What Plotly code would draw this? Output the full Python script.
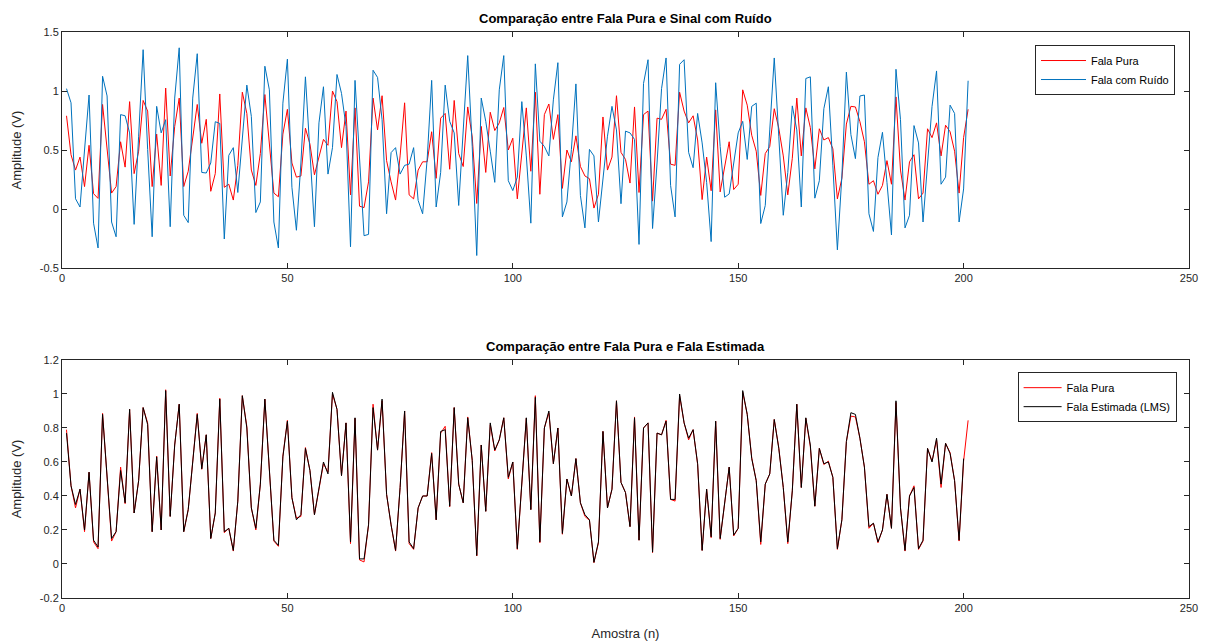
import plotly.graph_objects as go

fala_pura = [
    0.79, 0.46, 0.33, 0.44, 0.19, 0.54, 0.13, 0.09, 0.886, 0.51,
    0.135, 0.19, 0.57, 0.355, 0.91, 0.30, 0.49, 0.92, 0.83, 0.19,
    0.635, 0.20, 1.025, 0.28, 0.70, 0.94, 0.19, 0.32, 0.61, 0.886,
    0.557, 0.76, 0.15, 0.30, 0.975, 0.184, 0.21, 0.076, 0.37, 0.99,
    0.81, 0.33, 0.20, 0.47, 0.97, 0.55, 0.135, 0.104, 0.635, 0.845,
    0.39, 0.27, 0.28, 0.685, 0.55, 0.29, 0.44, 0.59, 0.54, 1.00,
    0.91, 0.52, 0.83, 0.12, 0.857, 0.024, 0.012, 0.23, 0.94, 0.67,
    0.96, 0.41, 0.23, 0.076, 0.45, 0.90, 0.12, 0.086, 0.33, 0.40,
    0.40, 0.655, 0.26, 0.77, 0.81, 0.337, 0.92, 0.47, 0.36, 0.865,
    0.61, 0.047, 0.70, 0.31, 0.82, 0.665, 0.73, 0.86, 0.50, 0.60,
    0.086, 0.45, 0.857, 0.32, 0.99, 0.125, 0.80, 0.89, 0.59, 0.80,
    0.175, 0.50, 0.40, 0.62, 0.36, 0.28, 0.257, 0.008, 0.125, 0.78,
    0.33, 0.44, 0.96, 0.48, 0.42, 0.22, 0.865, 0.14, 0.80, 0.83,
    0.067, 0.77, 0.76, 0.845, 0.38, 0.37, 0.99, 0.83, 0.73, 0.79,
    0.585, 0.08, 0.44, 0.155, 0.84, 0.145, 0.37, 0.57, 0.165, 0.21,
    1.01, 0.88, 0.625, 0.49, 0.115, 0.47, 0.53, 0.85, 0.685, 0.45,
    0.12, 0.43, 0.94, 0.45, 0.857, 0.69, 0.34, 0.68, 0.585, 0.605,
    0.51, 0.086, 0.26, 0.72, 0.87, 0.865, 0.74, 0.57, 0.21, 0.24,
    0.125, 0.20, 0.41, 0.21, 0.95, 0.33, 0.076, 0.40, 0.46, 0.086,
    0.135, 0.68, 0.605, 0.73, 0.45, 0.71, 0.655, 0.49, 0.135, 0.605,
    0.845,
]

fala_ruido = [
    1.02, 0.90, 0.087, 0.017, 0.50, 0.966, -0.12, -0.33, 1.125, 0.958,
    -0.11, -0.235, 0.80, 0.79, 0.645, -0.13, 0.617, 1.35, 0.505, -0.235,
    0.87, 0.645, 0.757, -0.15, 0.94, 1.366, -0.053, -0.115, 0.94, 1.316,
    0.31, 0.305, 0.39, 0.74, 0.725, -0.254, 0.455, 0.52, 0.14, 0.59,
    1.05, 0.785, -0.03, 0.06, 1.21, 1.01, -0.11, -0.33, 0.897, 1.27,
    0.184, -0.18, 0.39, 1.12, 0.48, -0.15, 0.73, 1.036, 0.296, 0.52,
    1.14, 0.98, 0.70, -0.32, 1.09, 0.45, -0.226, -0.215, 1.176, 1.115,
    0.757, -0.04, 0.478, 0.52, 0.296, 0.37, 0.38, 0.52, 0.073, -0.04,
    0.42, 1.09, 0.017, 0.31, 1.05, 0.743, 0.645, 0.03, 0.617, 1.30,
    0.53, -0.394, 0.94, 0.743, 0.49, 0.226, 1.01, 1.30, 0.24, 0.156,
    0.27, 0.91, 0.45, -0.12, 1.23, 0.575, 0.53, 0.45, 0.925, 1.24,
    -0.067, 0.06, 0.505, 1.06, 0.115, -0.16, 0.505, 0.45, -0.11, 0.28,
    0.617, 0.87, 0.67, 0.045, 0.66, 0.645, 0.59, -0.30, 1.064, 1.265,
    -0.165, 0.39, 1.02, 1.28, 0.20, -0.067, 1.226, 1.265, 0.48, 0.35,
    0.81, 0.56, 0.226, -0.276, 1.07, 0.53, 0.10, 0.128, 0.39, 0.645,
    0.743, 0.42, 0.87, 0.897, -0.123, 0.03, 0.67, 1.28, 0.617, -0.053,
    0.31, 0.874, 0.67, 0.017, 1.106, 1.12, 0.092, 0.24, 0.85, 1.036,
    0.366, -0.346, 0.28, 1.16, 0.63, 0.427, 0.958, 0.966, -0.04, -0.19,
    0.436, 0.65, 0.226, -0.22, 1.184, 0.757, -0.16, -0.053, 0.707, 0.56,
    -0.11, 0.39, 0.87, 1.17, 0.21, 0.27, 0.88, 0.81, -0.11, 0.17,
    1.087,
]

fala_estimada = [
    0.77, 0.46, 0.35, 0.44, 0.20, 0.54, 0.14, 0.10, 0.88, 0.51,
    0.15, 0.19, 0.55, 0.36, 0.91, 0.30, 0.49, 0.92, 0.82, 0.19,
    0.63, 0.20, 1.02, 0.28, 0.70, 0.94, 0.19, 0.32, 0.61, 0.88,
    0.56, 0.76, 0.15, 0.30, 0.97, 0.19, 0.21, 0.08, 0.37, 0.99,
    0.80, 0.33, 0.21, 0.47, 0.97, 0.55, 0.14, 0.11, 0.63, 0.84,
    0.39, 0.26, 0.29, 0.68, 0.55, 0.29, 0.44, 0.60, 0.53, 1.01,
    0.91, 0.52, 0.83, 0.13, 0.86, 0.03, 0.03, 0.23, 0.92, 0.67,
    0.97, 0.41, 0.23, 0.08, 0.45, 0.90, 0.13, 0.09, 0.33, 0.40,
    0.40, 0.65, 0.26, 0.78, 0.79, 0.34, 0.92, 0.47, 0.36, 0.86,
    0.61, 0.05, 0.70, 0.31, 0.83, 0.67, 0.73, 0.86, 0.51, 0.60,
    0.09, 0.45, 0.86, 0.32, 0.98, 0.13, 0.80, 0.90, 0.59, 0.80,
    0.18, 0.50, 0.40, 0.62, 0.36, 0.29, 0.26, 0.01, 0.13, 0.78,
    0.33, 0.44, 0.96, 0.48, 0.42, 0.22, 0.86, 0.14, 0.80, 0.83,
    0.07, 0.77, 0.76, 0.84, 0.38, 0.38, 1.00, 0.83, 0.74, 0.79,
    0.59, 0.08, 0.44, 0.16, 0.84, 0.15, 0.37, 0.57, 0.17, 0.21,
    1.02, 0.88, 0.62, 0.49, 0.13, 0.47, 0.53, 0.85, 0.68, 0.45,
    0.13, 0.43, 0.94, 0.45, 0.86, 0.70, 0.34, 0.68, 0.59, 0.60,
    0.51, 0.09, 0.26, 0.72, 0.89, 0.88, 0.74, 0.57, 0.22, 0.24,
    0.13, 0.20, 0.41, 0.21, 0.96, 0.33, 0.08, 0.40, 0.45, 0.09,
    0.14, 0.68, 0.60, 0.74, 0.47, 0.71, 0.65, 0.49, 0.14, 0.62,
]

amostras_pura = list(range(1, len(fala_pura) + 1))
amostras_ruido = list(range(1, len(fala_ruido) + 1))
amostras_est = list(range(1, len(fala_estimada) + 1))

x_ticks = [0, 50, 100, 150, 200, 250]
y1_ticks = [-0.5, 0, 0.5, 1, 1.5]
y1_text = ["-0.5", "0", "0.5", "1", "1.5"]
y2_ticks = [-0.2, 0, 0.2, 0.4, 0.6, 0.8, 1, 1.2]
y2_text = ["-0.2", "0", "0.2", "0.4", "0.6", "0.8", "1", "1.2"]

RED = "#FF0000"
BLUE = "#0072BD"
BLACK = "#000000"
AX = "#262626"
FONT = "Liberation Sans, Arial, sans-serif"

fig = go.Figure()
fig.add_trace(go.Scatter(x=amostras_pura, y=fala_pura, mode="lines", name="Fala Pura",
                         line=dict(color=RED, width=1), xaxis="x", yaxis="y", legend="legend"))
fig.add_trace(go.Scatter(x=amostras_ruido, y=fala_ruido, mode="lines", name="Fala com Ruído",
                         line=dict(color=BLUE, width=1), xaxis="x", yaxis="y", legend="legend"))
fig.add_trace(go.Scatter(x=amostras_pura, y=fala_pura, mode="lines", name="Fala Pura",
                         line=dict(color=RED, width=1), xaxis="x2", yaxis="y2", legend="legend2"))
fig.add_trace(go.Scatter(x=amostras_est, y=fala_estimada, mode="lines", name="Fala Estimada (LMS)",
                         line=dict(color=BLACK, width=1), xaxis="x2", yaxis="y2", legend="legend2"))

axis_common = dict(showline=True, linecolor=AX, linewidth=1, mirror="ticks", ticks="inside",
                   ticklen=5, tickcolor=AX, showgrid=False, zeroline=False, automargin=False,
                   tickfont=dict(family=FONT, size=11, color=AX))

top_dom = [0.583, 1.0]
bot_dom = [0.0, 0.4205]

fig.update_layout(
    width=1204, height=635,
    margin=dict(l=54, r=23, t=24, b=45, autoexpand=False),
    paper_bgcolor="white", plot_bgcolor="white",
    font=dict(family=FONT, color=AX),
    xaxis=dict(domain=[0, 1], range=[0, 250], tickvals=x_ticks, anchor="y", **axis_common),
    yaxis=dict(domain=top_dom, range=[-0.5, 1.5], tickvals=y1_ticks, ticktext=y1_text, anchor="x",
               title=dict(text="Amplitude (V)", font=dict(family=FONT, size=13, color=AX), standoff=15),
               **axis_common),
    xaxis2=dict(domain=[0, 1], range=[0, 250], tickvals=x_ticks, anchor="y2",
                title=dict(text="Amostra (n)", font=dict(family=FONT, size=13, color=AX), standoff=15),
                **axis_common),
    yaxis2=dict(domain=bot_dom, range=[-0.2, 1.2], tickvals=y2_ticks, ticktext=y2_text, anchor="x2",
                title=dict(text="Amplitude (V)", font=dict(family=FONT, size=13, color=AX), standoff=15),
                **axis_common),
    legend=dict(x=0.9876, y=0.977, xanchor="right", yanchor="top", bgcolor="white",
                bordercolor=AX, borderwidth=1, font=dict(family=FONT, size=11, color=BLACK),
                itemwidth=45, tracegroupgap=0),
    legend2=dict(x=0.989, y=0.399, xanchor="right", yanchor="top", bgcolor="white",
                 bordercolor=AX, borderwidth=1, font=dict(family=FONT, size=11, color=BLACK),
                 itemwidth=38, tracegroupgap=0),
    showlegend=True,
    annotations=[
        dict(text="<b>Comparação entre Fala Pura e Sinal com Ruído</b>", x=0.5, y=1.0,
             xref="paper", yref="paper", xanchor="center", yanchor="bottom", yshift=4,
             showarrow=False, font=dict(family=FONT, size=13, color=BLACK)),
        dict(text="<b>Comparação entre Fala Pura e Fala Estimada</b>", x=0.5, y=bot_dom[1],
             xref="paper", yref="paper", xanchor="center", yanchor="bottom", yshift=4,
             showarrow=False, font=dict(family=FONT, size=13, color=BLACK)),
    ],
)

fig.write_html("out.html")
